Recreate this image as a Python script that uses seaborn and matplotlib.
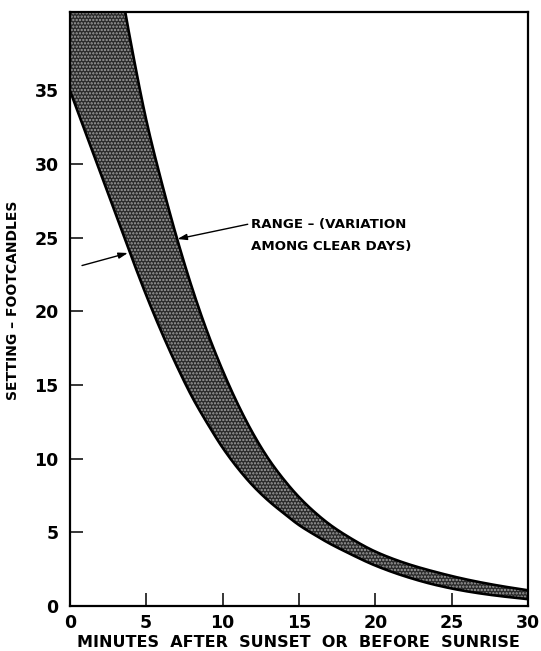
import numpy as np
import pandas as pd
import matplotlib
matplotlib.use("Agg")
import matplotlib.pyplot as plt
import seaborn as sns

# Minutes after sunset (or before sunrise)
minutes = [0, 1, 2, 3, 4, 5, 6, 7, 8, 9, 10, 11, 12, 13, 14, 15, 16, 17, 18,
           20, 22, 24, 26, 28, 30]
# Lower and upper bounds of the switch-on setting, footcandles
lower_fc = [35.0, 32.2, 29.4, 26.6, 23.8, 21.1, 18.6, 16.3, 14.2, 12.4, 10.75,
            9.35, 8.15, 7.15, 6.3, 5.5, 4.85, 4.25, 3.72, 2.75, 2.0, 1.42, 1.0,
            0.7, 0.47]
upper_fc = [63.0, 56.5, 50.0, 44.0, 38.2, 33.0, 28.8, 25.0, 21.6, 18.6, 16.0,
            13.7, 11.7, 10.0, 8.6, 7.4, 6.4, 5.55, 4.85, 3.7, 2.9, 2.3, 1.8,
            1.4, 1.07]

x_ticks = [0, 5, 10, 15, 20, 25, 30]
y_ticks = [0, 5, 10, 15, 20, 25, 30, 35]
x_label = "MINUTES  AFTER  SUNSET  OR  BEFORE  SUNRISE"
y_label = "SETTING – FOOTCANDLES"
note = "RANGE – (VARIATION\nAMONG CLEAR DAYS)"


def pchip(x, y, xs):
    """Monotone cubic Hermite interpolation (Fritsch–Carlson)."""
    x = np.asarray(x, float)
    y = np.asarray(y, float)
    h = np.diff(x)
    d = np.diff(y) / h
    m = np.zeros_like(y)
    for k in range(1, len(x) - 1):
        if d[k - 1] * d[k] > 0:
            w1 = 2 * h[k] + h[k - 1]
            w2 = h[k] + 2 * h[k - 1]
            m[k] = (w1 + w2) / (w1 / d[k - 1] + w2 / d[k])
    m[0] = d[0]
    m[-1] = d[-1]
    idx = np.clip(np.searchsorted(x, xs) - 1, 0, len(x) - 2)
    t = (xs - x[idx]) / h[idx]
    h00 = 2 * t**3 - 3 * t**2 + 1
    h10 = t**3 - 2 * t**2 + t
    h01 = -2 * t**3 + 3 * t**2
    h11 = t**3 - t**2
    return (h00 * y[idx] + h10 * h[idx] * m[idx]
            + h01 * y[idx + 1] + h11 * h[idx] * m[idx + 1])


xs = np.linspace(0, 30, 600)
smooth = pd.DataFrame({
    "minutes": xs,
    "lower": pchip(minutes, lower_fc, xs),
    "upper": pchip(minutes, upper_fc, xs),
})

sns.set_style("ticks")
plt.rcParams["font.family"] = ["DejaVu Sans"]
plt.rcParams["hatch.linewidth"] = 1.1
for key in ["text.color", "axes.labelcolor", "xtick.color", "ytick.color"]:
    plt.rcParams[key] = "black"

fig = plt.figure(figsize=(5.41, 6.51), dpi=100)
ax = fig.add_axes([0.129, 0.069, 0.847, 0.9126])

ax.fill_between(smooth["minutes"], smooth["lower"], smooth["upper"],
                facecolor="#2a2a2a", edgecolor="#a0a0a0", hatch=".....",
                linewidth=0, zorder=2)
sns.lineplot(data=smooth, x="minutes", y="lower", ax=ax, color="black",
             linewidth=1.9, zorder=3)
sns.lineplot(data=smooth, x="minutes", y="upper", ax=ax, color="black",
             linewidth=1.9, zorder=3)

ax.set_xlim(0, 30)
ax.set_ylim(0, 40.3)
ax.set_xticks(x_ticks)
ax.set_yticks(y_ticks)
ax.set_xticklabels([str(v) for v in x_ticks], fontsize=12.5, fontweight="bold")
ax.set_yticklabels([str(v) for v in y_ticks], fontsize=12.5, fontweight="bold")
ax.tick_params(direction="in", length=9.5, width=1.1, color="black", pad=6)
ax.tick_params(axis="y", pad=8)
ax.set_xlabel(x_label, fontsize=11.5, fontweight="bold", labelpad=2)
ax.set_ylabel(y_label, fontsize=10, fontweight="bold")
ax.yaxis.set_label_coords(-0.109, 0.515)

for side in ["left", "right", "top", "bottom"]:
    ax.spines[side].set_visible(True)
    ax.spines[side].set_linewidth(1.6)
    ax.spines[side].set_color("black")

ax.text(11.85, 25.15, note, fontsize=9.6, fontweight="bold", va="center",
        ha="left", linespacing=1.85)
arrow = dict(arrowstyle="-|>,head_length=0.55,head_width=0.18", color="black",
             lw=1.0, shrinkA=0, shrinkB=0)
ax.annotate("", xy=(7.05, 24.9), xytext=(11.65, 25.9), arrowprops=arrow)
ax.annotate("", xy=(3.8, 23.95), xytext=(0.8, 23.1), arrowprops=arrow)

fig.savefig("out.png", dpi=100)
